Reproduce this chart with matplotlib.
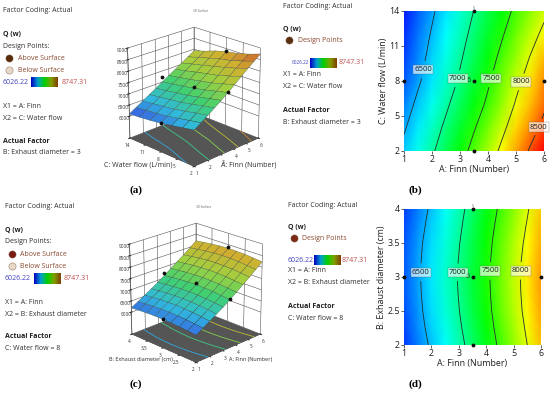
import numpy as np
from matplotlib import pyplot as plt
from matplotlib.colors import LinearSegmentedColormap, Normalize

plt.rcParams['font.family'] = ['Open Sans', 'DejaVu Sans']

W, H = 550, 393

finn = [1, 1.5, 2, 2.5, 3, 3.5, 4, 4.5, 5, 5.5, 6]
water = [2, 4, 6, 8, 10, 12, 14]
diam = [2, 2.25, 2.5, 2.75, 3, 3.25, 3.5, 3.75, 4]

# Q, rows follow water flow
q_water = [
    [6570, 6760, 6960, 7165, 7375, 7600, 7830, 8070, 8310, 8530, 8747],
    [6470, 6660, 6860, 7060, 7265, 7475, 7690, 7925, 8165, 8375, 8580],
    [6370, 6560, 6755, 6950, 7150, 7350, 7555, 7780, 8030, 8230, 8450],
    [6270, 6460, 6650, 6845, 7040, 7250, 7460, 7685, 7910, 8140, 8370],
    [6200, 6390, 6590, 6780, 6965, 7160, 7360, 7580, 7790, 8010, 8240],
    [6145, 6340, 6525, 6710, 6890, 7085, 7275, 7470, 7680, 7880, 8070],
    [6100, 6280, 6460, 6640, 6820, 7005, 7190, 7375, 7560, 7745, 7930],
]
# rows follow exhaust diameter
q_diam = [
    [6180, 6360, 6540, 6725, 6910, 7115, 7330, 7550, 7770, 8000, 8230],
    [6215, 6400, 6585, 6770, 6955, 7160, 7375, 7595, 7820, 8045, 8275],
    [6245, 6430, 6620, 6805, 6990, 7200, 7410, 7635, 7860, 8085, 8310],
    [6262, 6450, 6640, 6825, 7010, 7220, 7430, 7655, 7880, 8105, 8330],
    [6270, 6460, 6650, 6835, 7020, 7230, 7440, 7665, 7890, 8115, 8340],
    [6265, 6452, 6640, 6822, 7007, 7215, 7428, 7650, 7875, 8098, 8320],
    [6250, 6435, 6620, 6800, 6985, 7190, 7405, 7625, 7845, 8065, 8290],
    [6225, 6400, 6585, 6765, 6950, 7155, 7370, 7585, 7800, 8022, 8248],
    [6195, 6365, 6545, 6725, 6910, 7115, 7330, 7540, 7750, 7975, 8200],
]

levels = [6500, 7000, 7500, 8000, 8500]
z_ticks = [6000, 6500, 7000, 7500, 8000, 8500, 9000]
q_min, q_max = 6026.22, 8747.31

# design points
pts_a_x = [1, 3.5, 3.5, 6, 3.5]
pts_water = [8, 14, 8, 8, 2]
pts_diam = [3, 4, 3, 3, 2]
pts_q_b = [6300, 7230, 7290, 8390, 7620]
pts_q_d = [6300, 7230, 7290, 8390, 7130]

cmap = LinearSegmentedColormap.from_list('de', ['#0000ff', '#00ffff', '#00ff00', '#ffff00', '#ff0000'])
surf_cmap = LinearSegmentedColormap.from_list('surf', ['#3a48e0', '#30b8e0', '#40d070', '#a0d040', '#d0b030', '#c86030'])
norm = Normalize(q_min, q_max)
bar_cmap = LinearSegmentedColormap.from_list('bar', ['#0000c0', '#00a0d0', '#00d000', '#80a000', '#804000'])

fig = plt.figure(figsize=(5.5, 3.93), dpi=100)


def px_rect(x0, y0, x1, y1):
    # pixel box, y measured from the top
    return [x0 / W, 1 - y1 / H, (x1 - x0) / W, (y1 - y0) / H]


def txt(x, y, s, size=5.0, color='#303030', **kw):
    kw.setdefault('va', 'center')
    fig.text(x / W, 1 - y / H, s, fontsize=size, color=color, **kw)


def side_panel(x, ys, x_marker, x_label, bar_x, low_x, high_x, dot, two_dots, x2, factor, low_size=5.0):
    txt(x, ys['factor'], 'Factor Coding: Actual')
    txt(x, ys['q'], 'Q (w)', fontweight='bold', color='#202020')
    if two_dots:
        txt(x, ys['q'] + 12, 'Design Points:')
        marks = [('Above Surface', dot, ys['q'] + 24), ('Below Surface', '#e8d8c8', ys['q'] + 36)]
    else:
        marks = [('Design Points', dot, ys['q'] + 11)]
    for label, col, y in marks:
        fig.add_artist(plt.Line2D([x_marker / W], [1 - y / H], marker='o', ms=5.2, color=col,
                                  mec='#806050', mew=0.3, ls=''))
        txt(x_label, y, label, color='#8a4a30')
    y = ys['bar']
    txt(low_x, y, '6026.22', size=low_size, color='#4040c0')
    txt(high_x, y, '8747.31', color='#c05050')
    bar = fig.add_axes(px_rect(bar_x, y - 5.5, bar_x + 27, y + 5.5))
    bar.imshow([np.linspace(0, 1, 64)], aspect='auto', cmap=bar_cmap)
    bar.axis('off')
    txt(x, ys['x1'], 'X1 = A: Finn')
    txt(x, ys['x1'] + 12, x2)
    txt(x, ys['x1'] + 35, 'Actual Factor', fontweight='bold', color='#202020')
    txt(x, ys['x1'] + 47, factor)


def surface_panel(rect, y_vals, q, y_ticks, y_ticklabels, pts_y, pts_q, elev):
    ax = fig.add_axes(px_rect(*rect), projection='3d', computed_zorder=False)
    ax.patch.set_alpha(0)
    X, Y = np.meshgrid(finn, y_vals)
    Z = np.array(q, dtype=float)
    floor = 5000
    ax.plot_surface(np.array([[1, 6], [1, 6]]), np.array([[y_vals[0]] * 2, [y_vals[-1]] * 2]),
                    np.full((2, 2), floor), color='#555555', shade=False, zorder=1)
    ax.contour(X, Y, Z, levels=levels, cmap=surf_cmap, norm=norm, offset=floor, zdir='z', linewidths=0.6, zorder=2)
    ax.plot_surface(X, Y, Z, rstride=1, cstride=1, cmap=surf_cmap, norm=norm, shade=False,
                    edgecolor='#304030', linewidth=0.2, zorder=3)
    ax.scatter(pts_a_x, pts_y, pts_q, color='#101010', s=3, depthshade=False, zorder=4)
    ax.view_init(elev=elev, azim=-135)
    ax.set_proj_type('persp', focal_length=1.2)
    ax.set_box_aspect((1, 1, 1.05), zoom=1.0)
    ax.set_xlim(1, 6)
    ax.set_ylim(y_vals[0], y_vals[-1])
    ax.set_zlim(floor, 9000)
    ax.set_xticks([1, 2, 3, 4, 5, 6])
    ax.set_yticks(y_ticks)
    ax.set_yticklabels(y_ticklabels)
    ax.set_zticks(z_ticks)
    ax.tick_params(labelsize=3.4, pad=-5.5, colors='#303030', length=0)
    for axis in (ax.xaxis, ax.yaxis, ax.zaxis):
        axis.set_pane_color((1, 1, 1, 1))
        axis._axinfo['grid'].update(color='#555555', linewidth=0.4)
        axis.line.set_color('#404040')
        axis.line.set_linewidth(0.4)
    return ax


def contour_panel(rect, y_vals, q, y_ticks, y_ticklabels, ylabel, pts_y, manual, top_label_y, mid_y):
    ax = fig.add_axes(px_rect(*rect))
    X, Y = np.meshgrid(finn, y_vals)
    Z = np.array(q, dtype=float)
    ax.pcolormesh(X, Y, Z, cmap=cmap, norm=norm, shading='gouraud', rasterized=True)
    cs = ax.contour(X, Y, Z, levels=levels, colors='#203030', linewidths=0.6)
    labels = ax.clabel(cs, fmt='%d', manual=manual, fontsize=5.6, inline=True, inline_spacing=0, colors='#202020')
    for t in labels:
        t.set_rotation(0)
        t.set_clip_on(False)
        t.set_bbox(dict(boxstyle='square,pad=0.15', fc='white', ec='#505050', lw=0.3, alpha=0.65))
    ax.plot(pts_a_x, pts_y, 'o', color='#101010', ms=1.8, ls='', clip_on=False)
    ax.text(3.38, mid_y, '6', fontsize=5, ha='right', va='center', color='#202020')
    ax.text(3.5, top_label_y, '5', fontsize=2.5, ha='center', va='bottom', color='#505050', clip_on=False)
    ax.set_xlim(1, 6)
    ax.set_ylim(y_vals[0], y_vals[-1])
    ax.set_xticks([1, 2, 3, 4, 5, 6])
    ax.set_yticks(y_ticks)
    ax.set_yticklabels(y_ticklabels)
    ax.tick_params(labelsize=6.4, length=2, width=0.5, pad=1, colors='#202020')
    for s in ax.spines.values():
        s.set_visible(False)
    ax.set_xlabel('A: Finn (Number)', fontsize=6.4, labelpad=0.5, color='#202020')
    ax.set_ylabel(ylabel, fontsize=6.4, labelpad=1, color='#202020')
    return ax


# (a)
side_panel(3, dict(factor=10, q=34, bar=82, x1=106), 9, 18, 31, 3, 62, '#5a2a08', True,
           'X2 = C: Water flow', 'B: Exhaust diameter = 3')
surface_panel((113, 17, 271, 175), water, q_water, [2, 5, 8, 11, 14], ['2', '5', '8', '11', '14'],
              pts_water, pts_q_b, 22)
txt(201, 11, '3D Surface', size=2.2, ha='center', color='#606060')
txt(104, 165, 'C: Water flow (L/min)', size=5.0, va='center')
txt(221, 165, 'A: Finn (Number)', size=5.0, va='center')
txt(136, 190, '(a)', size=8, family='Liberation Serif', fontweight='bold', ha='center', color='black')

# (b)
side_panel(283, dict(factor=6, q=29, bar=63, x1=75), 289, 298, 310, 292, 339, '#5a3010', False,
           'X2 = C: Water flow', 'B: Exhaust diameter = 3', low_size=3.4)
contour_panel((404, 10.7, 544, 151), water, q_water, [2, 5, 8, 11, 14], ['2', '5', '8', '11', '14'],
              'C: Water flow (L/min)', pts_water,
              [(1.6, 9), (2.9, 8.2), (4.1, 8.2), (5.2, 7.9), (5.75, 4.1)], 14.1, 8)
txt(415, 190, '(b)', size=8, family='Liberation Serif', fontweight='bold', ha='center', color='black')

# (c)
side_panel(5, dict(factor=206, q=230, bar=278, x1=302), 12, 20, 34, 5, 64, '#7a1a10', True,
           'X2 = B: Exhaust diameter', 'C: Water flow = 8')
surface_panel((115, 213, 273, 371), diam, q_diam, [2, 2.5, 3, 3.5, 4], ['2', '2.5', '3', '3.5', '4'],
              pts_diam, pts_q_d, 22)
txt(204, 207, '3D Surface', size=2.2, ha='center', color='#606060')
txt(109, 360, 'B: Exhaust diameter (cm)', size=4.0, va='center')
txt(229, 360, 'A: Finn (Number)', size=4.0, va='center')
txt(136, 384, '(c)', size=8, family='Liberation Serif', fontweight='bold', ha='center', color='black')

# (d)
side_panel(288, dict(factor=205, q=227, bar=260, x1=271), 294, 302, 314, 288, 342, '#7a2a10', False,
           'X2 = B: Exhaust diameter', 'C: Water flow = 8')
contour_panel((404, 209, 541, 345), diam, q_diam, [2, 2.5, 3, 3.5, 4], ['2', '2.5', '3', '3.5', '4'],
              'B: Exhaust diameter (cm)', pts_diam,
              [(1.6, 3.07), (2.95, 3.07), (4.15, 3.09), (5.25, 3.09)], 4.02, 3)
txt(415, 384, '(d)', size=8, family='Liberation Serif', fontweight='bold', ha='center', color='black')

fig.savefig('out.png', dpi=100)
